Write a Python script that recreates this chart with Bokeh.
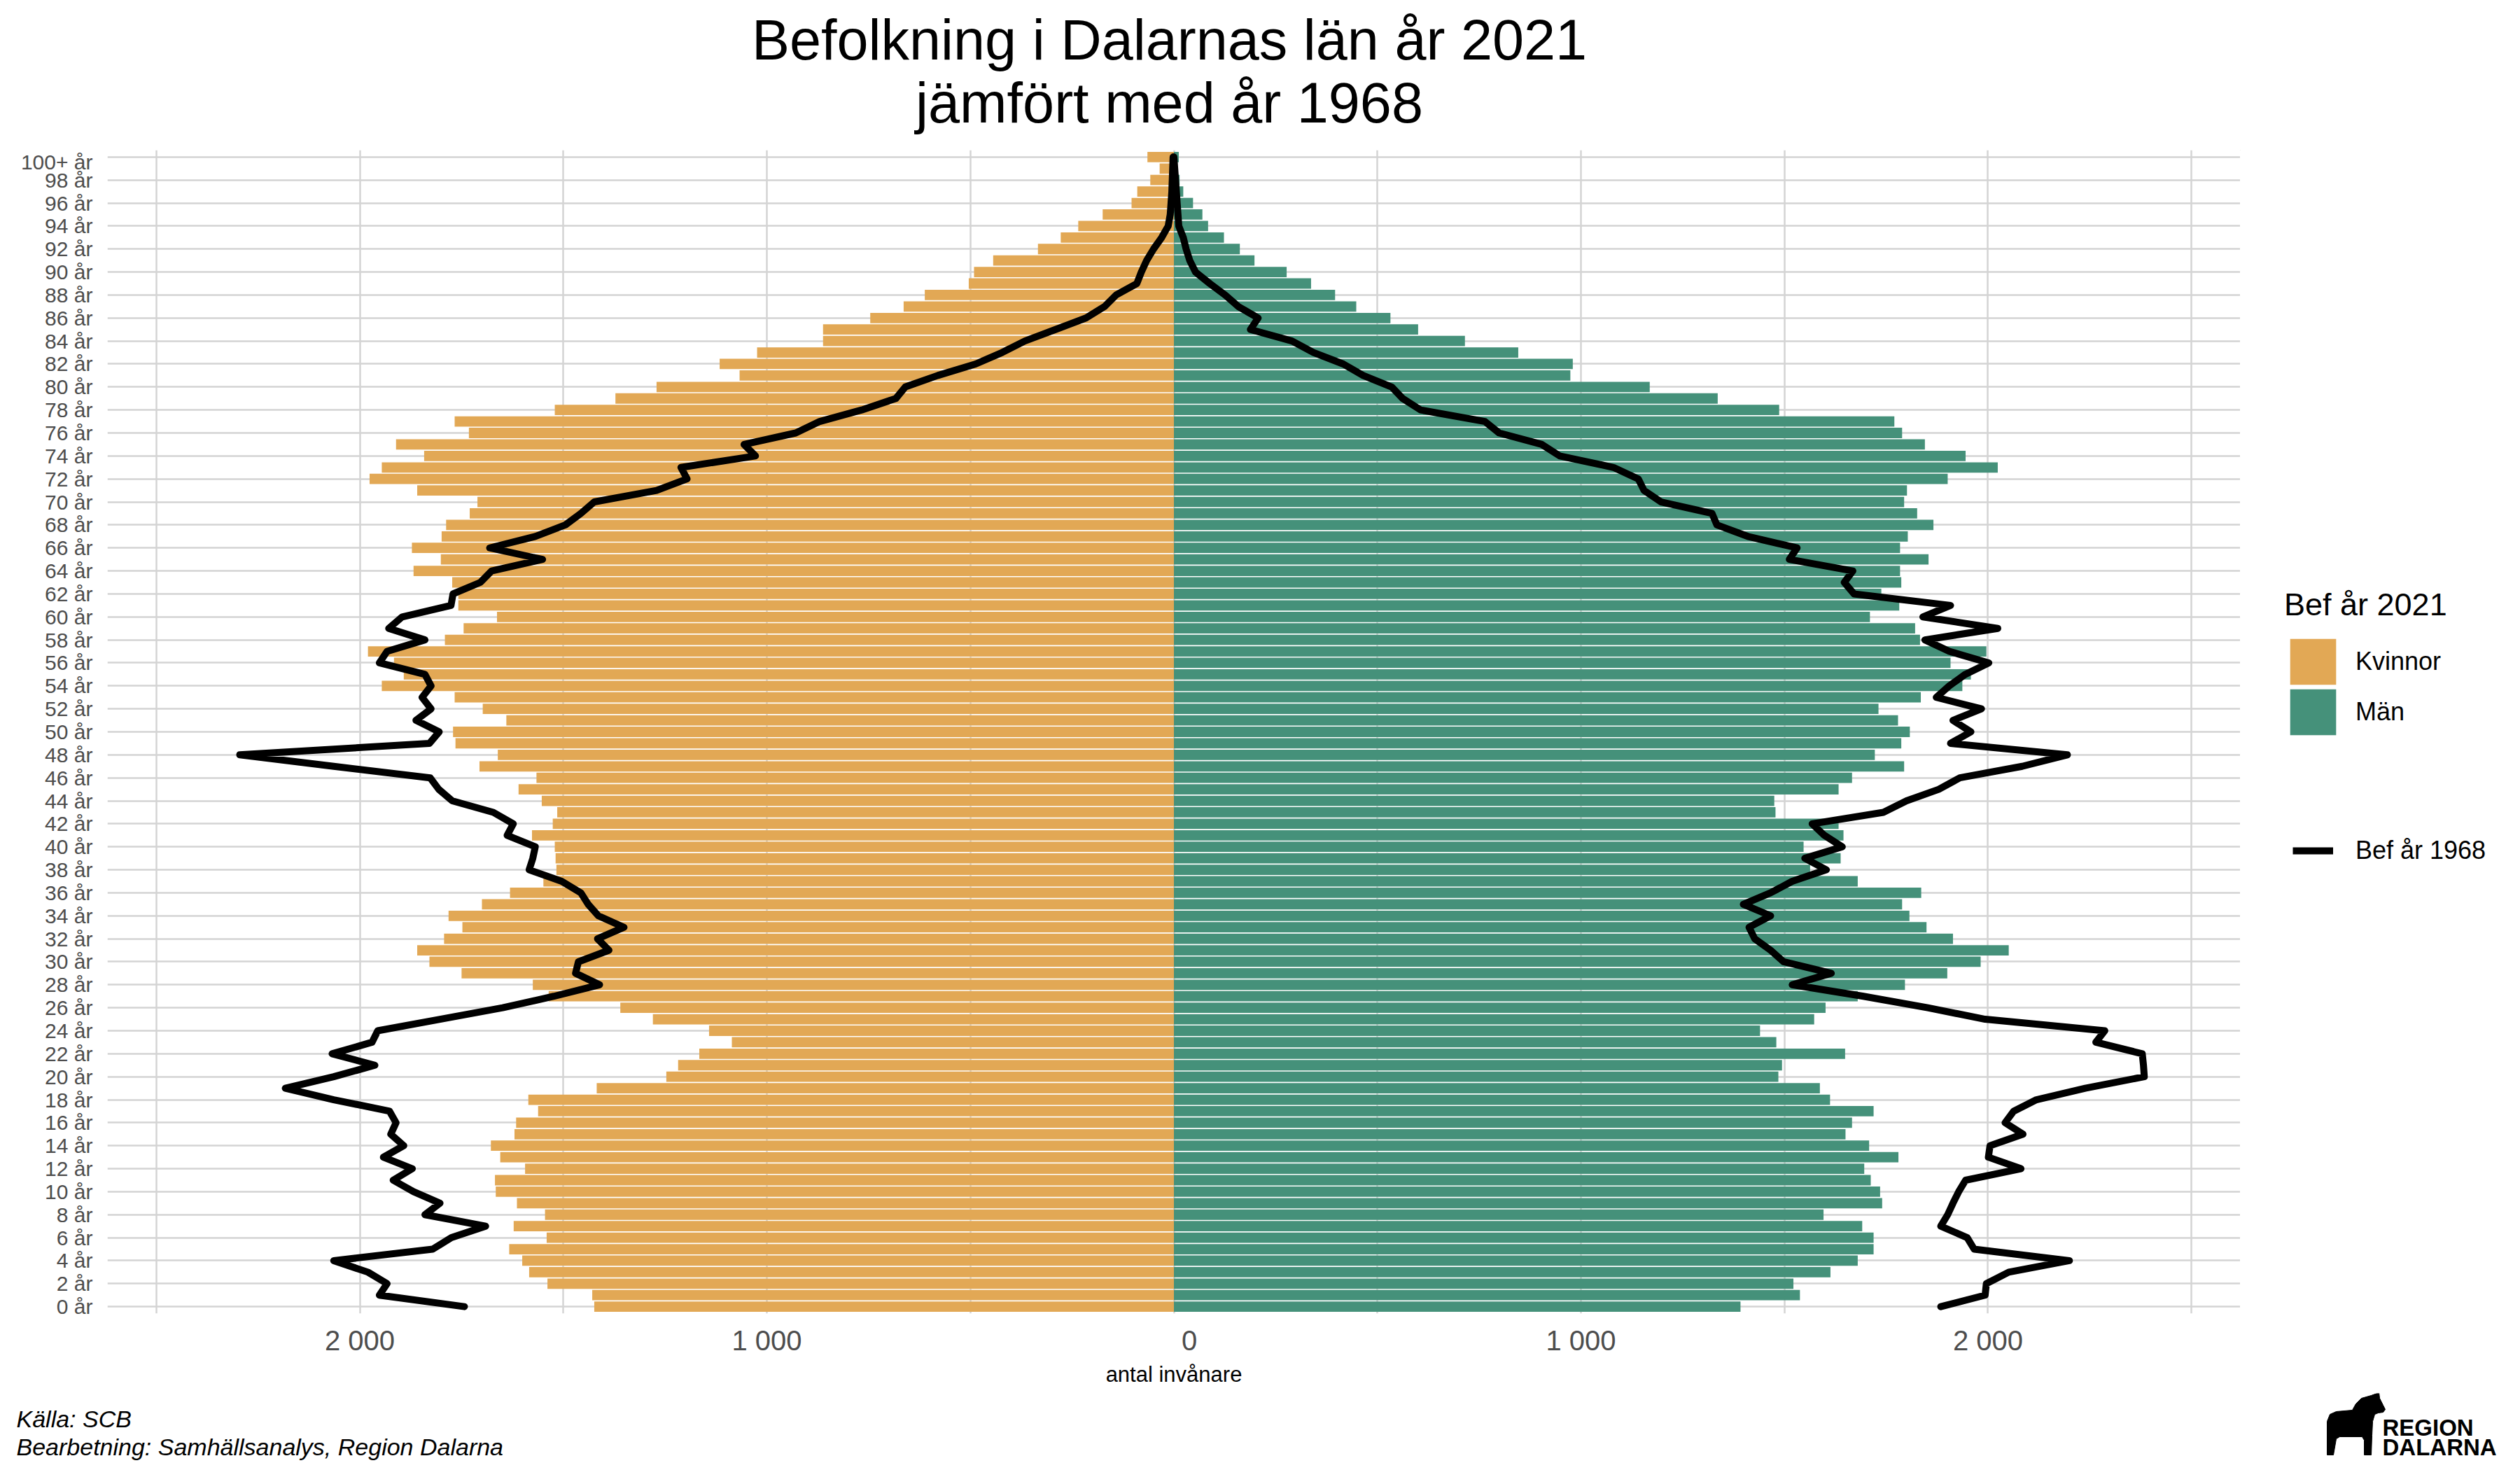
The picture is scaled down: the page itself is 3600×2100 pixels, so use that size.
from bokeh.plotting import figure
from bokeh.models import (Range1d, FixedTicker, Label, Legend, LegendItem, ColumnDataSource)
from bokeh.layouts import column, row
from bokeh.embed import file_html
from bokeh.resources import INLINE

# ---------------- data ----------------
ages = list(range(101))
age_labels = [f"{a} år" for a in range(100)] + ["100+ år"]

women_2021 = [1424, 1429, 1539, 1584, 1601, 1633, 1541, 1622, 1545, 1614,
              1666, 1668, 1594, 1655, 1678, 1620, 1616, 1562, 1586, 1418,
              1247, 1218, 1166, 1086, 1142, 1280, 1360, 1536, 1575, 1750,
              1829, 1859, 1793, 1748, 1782, 1700, 1631, 1549, 1517, 1519,
              1521, 1577, 1526, 1515, 1553, 1610, 1566, 1706, 1661, 1765,
              1771, 1640, 1698, 1767, 1946, 1892, 1916, 1980, 1791, 1745,
              1663, 1758, 1758, 1773, 1868, 1801, 1872, 1799, 1788, 1730,
              1711, 1859, 1976, 1946, 1842, 1911, 1732, 1767, 1521, 1372,
              1271, 1067, 1116, 1024, 862, 862, 746, 664, 612, 504,
              491, 444, 334, 278, 235, 175, 104, 90, 58, 35,
              65]

men_2021 = [1392, 1538, 1522, 1613, 1680, 1719, 1719, 1691, 1596, 1740,
            1735, 1712, 1696, 1780, 1708, 1650, 1666, 1719, 1612, 1587,
            1485, 1494, 1649, 1480, 1440, 1573, 1601, 1680, 1796, 1900,
            1982, 2051, 1914, 1849, 1807, 1789, 1836, 1680, 1563, 1638,
            1547, 1645, 1633, 1478, 1475, 1633, 1666, 1794, 1722, 1787,
            1808, 1779, 1731, 1835, 1937, 1958, 1908, 1996, 1833, 1821,
            1710, 1782, 1738, 1787, 1784, 1854, 1784, 1803, 1866, 1826,
            1794, 1801, 1901, 2024, 1945, 1845, 1789, 1770, 1487, 1336,
            1169, 974, 980, 846, 715, 600, 532, 448, 396, 337,
            277, 198, 162, 123, 84, 70, 47, 23, 14, 5,
            12]

women_1968 = [1743, 1952, 1933, 1980, 2064, 1821, 1775, 1691, 1840, 1803,
              1868, 1918, 1871, 1942, 1892, 1924, 1911, 1927, 2064, 2183,
              2064, 1963, 2068, 1970, 1956, 1803, 1649, 1523, 1411, 1470,
              1463, 1388, 1416, 1351, 1414, 1439, 1457, 1504, 1584, 1575,
              1569, 1638, 1623, 1672, 1773, 1806, 1827, 2064, 2295, 1829,
              1805, 1862, 1825, 1847, 1825, 1840, 1952, 1933, 1840, 1929,
              1896, 1776, 1771, 1704, 1676, 1551, 1681, 1569, 1495, 1457,
              1424, 1271, 1196, 1211, 1028, 1056, 929, 870, 767, 683,
              660, 580, 487, 422, 366, 291, 216, 170, 142, 91,
              80, 67, 50, 30, 14, 9, 7, 5, 4, 3,
              2]

men_1968 = [1884, 1993, 1996, 2051, 2200, 1966, 1949, 1884, 1901, 1914,
            1928, 1945, 2081, 2001, 2005, 2086, 2042, 2063, 2119, 2239,
            2384, 2382, 2379, 2265, 2287, 1993, 1852, 1694, 1519, 1615,
            1498, 1466, 1427, 1413, 1466, 1399, 1466, 1519, 1603, 1550,
            1642, 1598, 1568, 1743, 1800, 1879, 1931, 2084, 2195, 1908,
            1958, 1914, 1984, 1873, 1905, 1944, 2002, 1905, 1845, 2024,
            1840, 1908, 1671, 1647, 1668, 1512, 1531, 1410, 1334, 1322,
            1197, 1155, 1141, 1080, 948, 904, 799, 764, 606, 562,
            535, 465, 416, 343, 290, 188, 207, 158, 126, 88,
            53, 39, 30, 23, 12, 10, 8, 6, 4, 2,
            0]

x_ticks = [-2000, -1000, 0, 1000, 2000]
x_tick_labels = ["2 000", "1 000", "\u00a0\u00a0\u00a0\u00a00", "1 000", "2 000"]
x_minor_ticks = [-2500, -1500, -500, 500, 1500, 2500]
y_ticks = list(range(0, 101, 2))

title_lines = ["Befolkning i Dalarnas län år 2021", "jämfört med år 1968"]
legend_title = "Bef år 2021"
series_names = ["Kvinnor", "Män"]
line_name = "Bef år 1968"
x_title = "antal invånare"
caption_lines = ["Källa: SCB", "Bearbetning: Samhällsanalys, Region Dalarna"]
logo_lines = ["REGION", "DALARNA"]

# ---------------- style / layout ----------------
FONT = "Liberation Sans"
ORANGE = "#E2A855"
GREEN = "#45917A"
GRID = "#d4d4d4"
TICK_COLOR = "#4d4d4d"

W, H = 3600, 2100
TOP_H = 214          # title band height (frame top of the chart)
MID_BOTTOM = 1990    # canvas y where the chart band ends
FRAME_L, FRAME_R, FRAME_B = 153, 3200, 1876
MID_H = MID_BOTTOM - TOP_H
BOT_BORDER = MID_BOTTOM - FRAME_B


def blank(width, height, x0, x1, y0, y1, bottom_border=0):
    f = figure(width=width, height=height, output_backend="svg", toolbar_location=None,
               tools="", title=None, x_range=Range1d(x0, x1), y_range=Range1d(y0, y1),
               min_border=0, min_border_bottom=bottom_border,
               x_axis_location=None, y_axis_location=None)
    f.outline_line_color = None
    f.grid.visible = False
    f.background_fill_color = "white"
    f.border_fill_color = "white"
    return f


# ---------- title band ----------
top = blank(W, TOP_H, 0, W, TOP_H, 0)
for txt, base in zip(title_lines, [56, 146]):
    top.add_layout(Label(x=1670, y=base, text=txt, text_font=FONT, text_font_size="81px",
                         text_align="center", text_baseline="alphabetic", text_color="black"))

# ---------- main chart ----------
src = ColumnDataSource(dict(
    age=ages,
    w_left=[-v for v in women_2021],
    m_right=men_2021,
    w68=[-v for v in women_1968],
    m68=men_1968,
))

p = figure(width=FRAME_R, height=MID_H, output_backend="svg", toolbar_location=None, tools="",
           title=None, x_range=Range1d(-2620, 2620), y_range=Range1d(-0.6, 100.6),
           min_border=0, min_border_left=FRAME_L, min_border_right=0,
           min_border_top=0, min_border_bottom=BOT_BORDER)
p.background_fill_color = "white"
p.border_fill_color = "white"
p.outline_line_color = None

p.xaxis.ticker = FixedTicker(ticks=x_ticks, minor_ticks=x_minor_ticks)
p.xaxis.major_label_overrides = {t: l for t, l in zip(x_ticks, x_tick_labels)}
p.yaxis.ticker = FixedTicker(ticks=y_ticks)
p.yaxis.major_label_overrides = {a: age_labels[a] for a in y_ticks}
for ax in (p.xaxis, p.yaxis):
    ax.axis_line_color = None
    ax.major_tick_line_color = None
    ax.minor_tick_line_color = None
    ax.major_tick_out = 0
    ax.major_tick_in = 0
    ax.minor_tick_out = 0
    ax.minor_tick_in = 0
    ax.major_label_text_font = FONT
    ax.major_label_text_color = TICK_COLOR
p.yaxis.major_label_text_font_size = "30px"
p.yaxis.major_label_standoff = 21
p.xaxis.major_label_text_font_size = "40px"
p.xaxis.major_label_standoff = 16
p.xaxis.axis_label = x_title
p.xaxis.axis_label_text_font = FONT
p.xaxis.axis_label_text_font_size = "31px"
p.xaxis.axis_label_text_font_style = "normal"
p.xaxis.axis_label_text_color = "black"
p.xaxis.axis_label_standoff = 6

p.xgrid.grid_line_color = GRID
p.xgrid.grid_line_width = 2.5
p.xgrid.minor_grid_line_color = GRID
p.xgrid.minor_grid_line_width = 2.5
p.ygrid.grid_line_color = GRID
p.ygrid.grid_line_width = 2.5

p.hbar(y="age", left="w_left", right=0, height=0.9, source=src,
       fill_color=ORANGE, line_color=None)
p.hbar(y="age", left=0, right="m_right", height=0.9, source=src,
       fill_color=GREEN, line_color=None)
p.line(x="w68", y="age", source=src, line_color="black", line_width=10,
       line_join="round", line_cap="round")
p.line(x="m68", y="age", source=src, line_color="black", line_width=10,
       line_join="round", line_cap="round")

# ---------- legend band (right of chart; frame matches the chart frame) ----------
leg = blank(W - FRAME_R, MID_H, FRAME_R, W, FRAME_B, TOP_H, bottom_border=BOT_BORDER)
kw = leg.hbar(y=[-9999], left=[0], right=[1], height=1, fill_color=ORANGE, line_color=None)
km = leg.hbar(y=[-9999], left=[0], right=[1], height=1, fill_color=GREEN, line_color=None)
kl = leg.line(x=[-9999, -9998], y=[-9999, -9999], line_color="black", line_width=10)

common = dict(padding=0, margin=0, border_line_color=None, background_fill_alpha=0,
              label_text_font=FONT, label_text_font_size="36px", label_text_color="black")
leg1 = Legend(items=[LegendItem(label=series_names[0], renderers=[kw])],
              title=legend_title, location=(3263 - FRAME_R, FRAME_B - 986),
              glyph_width=82, glyph_height=82, label_standoff=20,
              title_text_font=FONT, title_text_font_size="45px", title_text_font_style="normal",
              title_standoff=14, title_text_color="black", **common)
leg1b = Legend(items=[LegendItem(label=series_names[1], renderers=[km])],
               location=(3263 - FRAME_R, FRAME_B - 1058),
               glyph_width=82, glyph_height=82, label_standoff=20, **common)
leg2 = Legend(items=[LegendItem(label=line_name, renderers=[kl])],
              location=(3275 - FRAME_R, FRAME_B - 1236),
              glyph_width=58, glyph_height=40, label_standoff=32, **common)
leg.add_layout(leg1)
leg.add_layout(leg1b)
leg.add_layout(leg2)

# ---------- footer band ----------
foot = blank(W, H - MID_BOTTOM, 0, W, H, MID_BOTTOM)
for txt, base in zip(caption_lines, [2026, 2066]):
    foot.add_layout(Label(x=23, y=base, text=txt, text_font=FONT, text_font_size="34px",
                          text_font_style="italic", text_align="left",
                          text_baseline="alphabetic", text_color="black"))
horse_x = [3324, 3324, 3328, 3337, 3360, 3365, 3373, 3387, 3398, 3399, 3404, 3407,
           3404, 3397, 3392, 3389, 3388, 3387, 3377, 3377, 3374, 3342, 3337, 3333]
horse_y = [2078, 2030, 2020, 2016, 2014, 2005, 1997, 1993, 1989, 1997, 2007, 2013,
           2017, 2018, 2020, 2030, 2050, 2078, 2078, 2057, 2052, 2052, 2055, 2078]
foot.patch(horse_x, horse_y, fill_color="black", line_color="black", line_width=1)
for txt, base in zip(logo_lines, [2039, 2067]):
    foot.add_layout(Label(x=3403, y=base, text=txt, text_font=FONT, text_font_size="33px",
                          text_font_style="bold", text_align="left",
                          text_baseline="alphabetic", text_color="black"))

layout = column(top, row(p, leg), foot)
open("out.html", "w").write(file_html(layout, INLINE))
